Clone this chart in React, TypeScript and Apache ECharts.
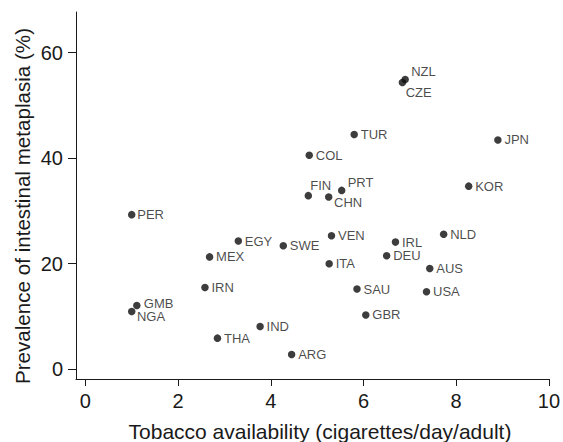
import React, { useEffect, useRef } from "react";
import * as echarts from "echarts";

const countries = ["PER","NZL","CZE","TUR","JPN","COL","FIN","CHN","PRT","KOR","EGY","SWE","MEX","IRN","GMB","NGA","IND","THA","ARG","VEN","IRL","NLD","DEU","ITA","AUS","SAU","USA","GBR"];
const tobacco = [1.00,6.90,6.84,5.80,8.90,4.83,4.81,5.25,5.53,8.27,3.30,4.27,2.68,2.58,1.11,1.00,3.77,2.85,4.45,5.31,6.69,7.73,6.50,5.26,7.43,5.86,7.36,6.05];
const prevalence = [29.3,54.9,54.35,44.5,43.45,40.55,32.9,32.65,33.9,34.7,24.3,23.4,21.3,15.5,12.1,10.95,8.1,5.9,2.8,25.3,24.1,25.6,21.5,20.0,19.1,15.2,14.7,10.3];
const xTicks = [0, 2, 4, 6, 8, 10];
const yTicks = [0, 20, 40, 60];
const xTitle = "Tobacco availability (cigarettes/day/adult)";
const yTitle = "Prevalence of intestinal metaplasia (%)";

// label offsets (from dot centre) for labels not placed to the right
const labelOffsets: Record<string, [number, number]> = {
  NZL: [6, -8.5],
  CZE: [3.3, 10.2],
  FIN: [2, -10],
  CHN: [5.3, 5.6],
  PRT: [6, -7.7],
  GMB: [7, -2.3],
  NGA: [5.2, 5.3],
  PER: [5.5, 0],
};
const defaultOffset: [number, number] = [6.5, 0];

const FONT = "'Liberation Sans', Arial, Helvetica, sans-serif";
const INK = "#1a1a1a";

export default function App() {
  const ref = useRef<HTMLDivElement>(null);
  useEffect(() => {
    if (!ref.current) return;
    const chart = echarts.init(ref.current, null, { renderer: "svg" });
    const sym = 7.5;
    const data = countries.map((c, i) => {
      const off = labelOffsets[c] || defaultOffset;
      return {
        name: c,
        value: [tobacco[i], prevalence[i]],
        label: {
          show: true,
          formatter: c,
          position: [sym / 2 + off[0], sym / 2 + off[1]],
          align: "left",
          verticalAlign: "middle",
          fontSize: 13,
          fontFamily: FONT,
          color: INK,
        },
      };
    });
    chart.setOption({
      animation: false,
      backgroundColor: "#ffffff",
      grid: { left: 76, right: 13, top: 12, bottom: 63, containLabel: false },
      xAxis: {
        type: "value",
        min: -0.202,
        max: 10,
        splitLine: { show: false },
        axisLine: { show: true, onZero: false, lineStyle: { color: INK, width: 1 } },
        axisTick: { show: true, length: 7, customValues: xTicks, lineStyle: { color: INK } },
        axisLabel: {
          customValues: xTicks,
          fontSize: 20,
          fontFamily: FONT,
          color: INK,
          margin: 12,
        },
      },
      yAxis: {
        type: "value",
        min: -1.84,
        max: 67.7,
        splitLine: { show: false },
        axisLine: { show: true, onZero: false, lineStyle: { color: INK, width: 1 } },
        axisTick: { show: true, length: 8, customValues: yTicks, lineStyle: { color: INK } },
        axisLabel: {
          customValues: yTicks,
          fontSize: 20,
          fontFamily: FONT,
          color: INK,
          margin: 13,
        },
      },
      graphic: [
        {
          type: "text",
          x: 320,
          y: 431,
          style: {
            text: xTitle,
            fontSize: 21,
            fontFamily: FONT,
            fill: INK,
            align: "center",
            verticalAlign: "middle",
          },
        },
        {
          type: "text",
          x: 22.5,
          y: 206,
          rotation: Math.PI / 2,
          style: {
            text: yTitle,
            fontSize: 20.6,
            fontFamily: FONT,
            fill: INK,
            align: "center",
            verticalAlign: "middle",
          },
        },
      ],
      series: [
        {
          type: "scatter",
          symbol: "circle",
          symbolSize: sym,
          itemStyle: { color: "#0d0d0d" },
          data,
        },
      ],
    });
    return () => chart.dispose();
  }, []);
  return <div ref={ref} style={{ width: 563, height: 442, position: "absolute", left: 0, top: 0 }} />;
}
